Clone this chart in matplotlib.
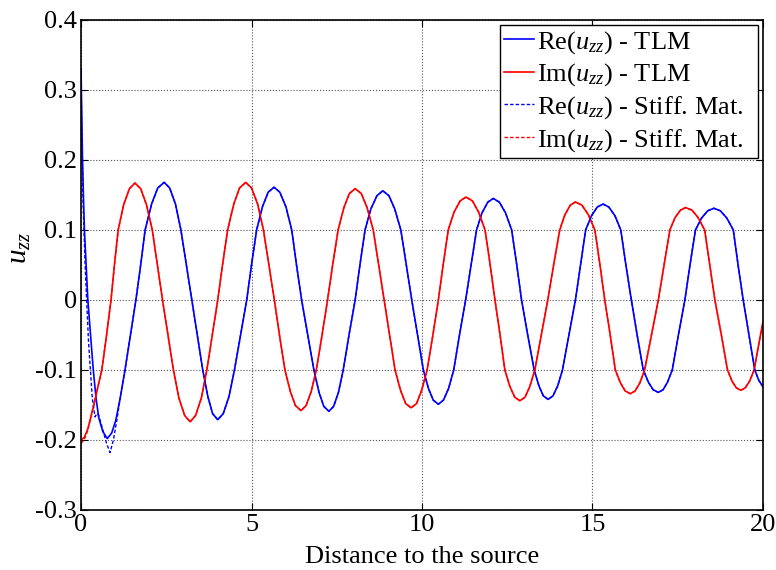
import matplotlib
matplotlib.use("Agg")
import matplotlib.pyplot as plt

plt.rcParams['font.family'] = ['Liberation Serif', 'DejaVu Serif']
plt.rcParams['mathtext.fontset'] = 'custom'
plt.rcParams['mathtext.rm'] = 'Liberation Serif'
plt.rcParams['mathtext.it'] = 'Liberation Serif:italic'

# Re(u_zz) - TLM
re_x = [0.00, 0.02, 0.04, 0.07, 0.10, 0.20, 0.28, 0.36, 0.44, 0.52, 0.64, 0.77, 0.90, 1.02, 1.15,
        1.29, 1.45, 1.61, 1.75, 1.88, 2.07, 2.25, 2.44, 2.60, 2.77, 2.93, 3.09, 3.25, 3.41, 3.57,
        3.72, 3.86, 4.01, 4.17, 4.34, 4.50, 4.68, 4.86, 5.00, 5.15, 5.32, 5.49, 5.66, 5.83, 6.01,
        6.18, 6.32, 6.47, 6.65, 6.83, 6.98, 7.12, 7.27, 7.41, 7.55, 7.69, 7.86, 8.04, 8.18, 8.33,
        8.50, 8.68, 8.85, 9.03, 9.20, 9.38, 9.54, 9.70, 9.87, 10.04, 10.19, 10.33, 10.48, 10.63,
        10.78, 10.93, 11.10, 11.28, 11.44, 11.60, 11.76, 11.93, 12.09, 12.27, 12.45, 12.63, 12.78,
        12.92, 13.10, 13.29, 13.43, 13.56, 13.70, 13.84, 13.98, 14.12, 14.31, 14.50, 14.65, 14.80,
        14.97, 15.14, 15.31, 15.48, 15.66, 15.83, 15.98, 16.14, 16.31, 16.49, 16.64, 16.78, 16.93,
        17.07, 17.20, 17.34, 17.52, 17.71, 17.86, 18.02, 18.20, 18.38, 18.56, 18.75, 18.94, 19.13,
        19.27, 19.42, 19.59, 19.76, 19.88, 20.00]
re_y = [0.330, 0.270, 0.210, 0.150, 0.100, 0.000, -0.050, -0.100, -0.140, -0.168, -0.188, -0.198,
        -0.190, -0.172, -0.140, -0.100, -0.050, 0.000, 0.050, 0.100, 0.137, 0.160, 0.168, 0.160,
        0.137, 0.100, 0.050, 0.000, -0.050, -0.100, -0.138, -0.1625, -0.171, -0.1625, -0.138,
        -0.100, -0.050, 0.000, 0.050, 0.100, 0.133, 0.154, 0.161, 0.154, 0.133, 0.100, 0.050,
        0.000, -0.050, -0.100, -0.132, -0.152, -0.159, -0.152, -0.132, -0.100, -0.050, 0.000,
        0.050, 0.100, 0.130, 0.149, 0.156, 0.149, 0.130, 0.100, 0.050, 0.000, -0.050, -0.100,
        -0.1265, -0.143, -0.149, -0.143, -0.1265, -0.100, -0.050, 0.000, 0.050, 0.100, 0.1244,
        0.1397, 0.145, 0.1397, 0.1244, 0.100, 0.050, 0.000, -0.050, -0.100, -0.1228, -0.1371,
        -0.142, -0.1371, -0.1228, -0.100, -0.050, 0.000, 0.050, 0.100, 0.1202, 0.1327, 0.137,
        0.1327, 0.1202, 0.100, 0.050, 0.000, -0.050, -0.100, -0.1175, -0.1283, -0.132, -0.1283,
        -0.1175, -0.100, -0.050, 0.000, 0.050, 0.100, 0.117, 0.1274, 0.131, 0.1274, 0.117, 0.100,
        0.050, 0.000, -0.050, -0.100, -0.115, -0.124]

# Im(u_zz) - TLM
im_x = [0.00, 0.10, 0.20, 0.30, 0.40, 0.50, 0.61, 0.75, 0.88, 0.98, 1.09, 1.25, 1.42, 1.58, 1.75,
        1.92, 2.09, 2.24, 2.39, 2.55, 2.71, 2.87, 3.04, 3.20, 3.36, 3.53, 3.69, 3.85, 4.01, 4.15,
        4.30, 4.48, 4.65, 4.83, 5.00, 5.18, 5.35, 5.51, 5.67, 5.82, 5.98, 6.14, 6.29, 6.45, 6.60,
        6.75, 6.90, 7.07, 7.23, 7.38, 7.54, 7.71, 7.87, 8.04, 8.22, 8.39, 8.57, 8.73, 8.89, 9.05,
        9.21, 9.37, 9.52, 9.68, 9.84, 9.99, 10.15, 10.32, 10.48, 10.62, 10.77, 10.94, 11.12, 11.29,
        11.48, 11.66, 11.85, 12.00, 12.14, 12.29, 12.43, 12.58, 12.72, 12.87, 13.02, 13.16, 13.31,
        13.50, 13.69, 13.86, 14.04, 14.19, 14.35, 14.50, 14.69, 14.88, 15.07, 15.22, 15.36, 15.52,
        15.67, 15.82, 15.96, 16.11, 16.25, 16.39, 16.53, 16.73, 16.93, 17.10, 17.27, 17.42, 17.58,
        17.73, 17.92, 18.10, 18.29, 18.44, 18.59, 18.78, 18.96, 19.09, 19.22, 19.35, 19.48, 19.61,
        19.74, 19.87, 20.00]
im_y = [-0.200, -0.196, -0.184, -0.165, -0.145, -0.123, -0.100, -0.050, 0.000, 0.050, 0.100,
        0.136, 0.159, 0.167, 0.159, 0.136, 0.100, 0.050, 0.000, -0.050, -0.100, -0.140, -0.165,
        -0.174, -0.165, -0.140, -0.100, -0.050, 0.000, 0.050, 0.100, 0.137, 0.160, 0.168, 0.160,
        0.137, 0.100, 0.050, 0.000, -0.050, -0.100, -0.131, -0.151, -0.158, -0.151, -0.131,
        -0.100, -0.050, 0.000, 0.050, 0.100, 0.132, 0.152, 0.159, 0.152, 0.132, 0.100, 0.050,
        0.000, -0.050, -0.100, -0.129, -0.148, -0.154, -0.148, -0.129, -0.100, -0.050, 0.000,
        0.050, 0.100, 0.1255, 0.1415, 0.147, 0.1415, 0.1255, 0.100, 0.050, 0.000, -0.050, -0.100,
        -0.1239, -0.1389, -0.144, -0.1389, -0.1239, -0.100, -0.050, 0.000, 0.050, 0.100, 0.1217,
        0.1354, 0.140, 0.1354, 0.1217, 0.100, 0.050, 0.000, -0.050, -0.100, -0.1185, -0.130,
        -0.134, -0.130, -0.1185, -0.100, -0.050, 0.000, 0.050, 0.100, 0.1175, 0.1283, 0.132,
        0.1283, 0.1175, 0.100, 0.050, 0.000, -0.050, -0.100, -0.1158, -0.1256, -0.129, -0.1256,
        -0.1158, -0.100, -0.065, -0.031]

# Stiffness-matrix solution: only differs visibly from TLM near the source
re_sm_start_x = [0.00, 0.03, 0.06, 0.12, 0.22, 0.33, 0.41, 0.47, 0.52, 0.62, 0.75, 0.85, 0.95,
                 1.05, 1.15]
re_sm_start_y = [0.310, 0.220, 0.140, 0.050, -0.060, -0.140, -0.167, -0.162, -0.165, -0.182,
                 -0.205, -0.218, -0.200, -0.172, -0.140]
im_sm_start_x = [0.00, 0.10, 0.20]
im_sm_start_y = [-0.205, -0.199, -0.186]

k = re_x.index(1.29)
re_sm_x = re_sm_start_x + re_x[k:]
re_sm_y = re_sm_start_y + re_y[k:]
k = im_x.index(0.30)
im_sm_x = im_sm_start_x + im_x[k:]
im_sm_y = im_sm_start_y + im_y[k:]

fig = plt.figure(figsize=(7.76, 5.70), dpi=100)
ax = fig.add_axes([0.1044, 0.1053, 0.8788, 0.8597])

ax.plot(re_x, re_y, color='#0000ff', lw=1.2, label=r'Re($u_{zz}$) - TLM')
ax.plot(im_x, im_y, color='#ff0000', lw=1.2, label=r'Im($u_{zz}$) - TLM')
ax.plot(re_sm_x, re_sm_y, color='#0000ff', lw=1.0, ls=(0, (2.5, 1.5)),
        label=r'Re($u_{zz}$) - Stiff. Mat.')
ax.plot(im_sm_x, im_sm_y, color='#ff0000', lw=1.0, ls=(0, (2.5, 1.5)),
        label=r'Im($u_{zz}$) - Stiff. Mat.')

ax.set_xlim(0, 20)
ax.set_ylim(-0.3, 0.4)
ax.set_xticks([0, 5, 10, 15, 20])
ax.set_yticks([-0.3, -0.2, -0.1, 0, 0.1, 0.2, 0.3, 0.4])
ax.set_yticklabels(['-0.3', '-0.2', '-0.1', '0', '0.1', '0.2', '0.3', '0.4'])
ax.tick_params(direction='in', labelsize=19, length=5, width=0.8, top=True, right=True, pad=3)
ax.grid(True, color='#555555', ls=':', lw=0.8)
for s in ax.spines.values():
    s.set_linewidth(1.2)

ax.set_xlabel('Distance to the source', fontsize=19, labelpad=7)
ax.set_ylabel(r'$u_{zz}$', fontsize=21)
ax.yaxis.set_label_coords(-0.071, 0.535)

# legend box stretched to the reference width (MATLAB style, extra room on the right)
leg = ax.legend(loc='upper left', bbox_to_anchor=(0.614, 0.0, 0.379, 0.990), mode='expand',
                fontsize=19, fancybox=False, framealpha=1, edgecolor='black',
                handlelength=1.15, handletextpad=0.1, borderpad=0.15, labelspacing=0.22,
                borderaxespad=0.0)
leg.get_frame().set_linewidth(1.0)

fig.savefig('out.png', dpi=100)
